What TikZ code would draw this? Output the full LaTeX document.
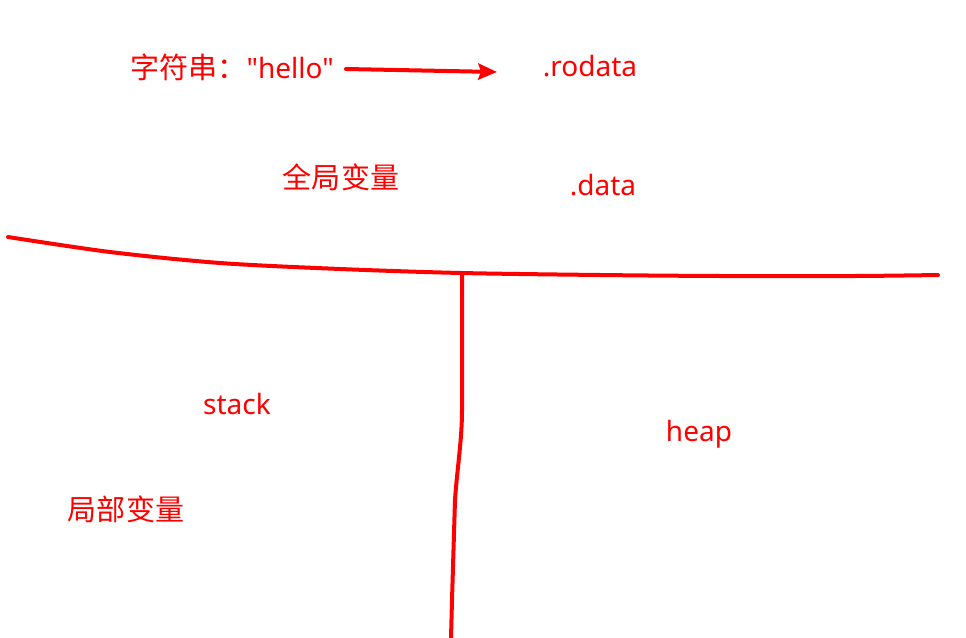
\documentclass[tikz,border=0pt]{standalone}
\usepackage{fontspec}
\setmainfont{Noto Sans}[Ligatures=TeXOff]
\newfontfamily\cjkfont{Noto Sans CJK SC}[Ligatures=TeXOff]
\usetikzlibrary{arrows.meta}
\definecolor{pen}{RGB}{255,0,0}
\begin{document}
\begin{tikzpicture}[x=0.75pt,y=-0.75pt,
  lbl/.style={text=pen,inner sep=0pt,anchor=center,font=\fontsize{21pt}{24pt}\selectfont},
  cjk/.style={lbl,font=\cjkfont\fontsize{21.8pt}{24pt}\selectfont},
  stroke/.style={draw=pen,line width=3pt,line cap=round,line join=round}]
\useasboundingbox[fill=white] (0,0) rectangle (966,638);
\node[lbl] (hello) at (232,67) {{\cjkfont\fontsize{21.8pt}{24pt}\selectfont 字符串：}"hello"};
\node[lbl] (rodata) at (590,66) {.rodata};
\node[cjk] (global) at (341,177) {全局变量};
\node[lbl] (data) at (603,185) {.data};
\node[lbl] (stack) at (237,404) {stack};
\node[lbl] (heap) at (699,434) {heap};
\node[cjk] (local) at (126,509) {局部变量};
\coordinate (a1) at (346,69);
\coordinate (a2) at (497,72);
\draw[stroke,-{Stealth[length=14pt,width=12pt,inset=2pt]}] (a1) -- (a2);
\draw[stroke] plot[smooth,tension=0.5] coordinates {(8,237) (110,252) (220,263) (340,269) (461,273) (600,275) (720,276) (855,276) (938,275)};
\coordinate (t) at (462,275);
\coordinate (b) at (451,638);
\draw[stroke,line cap=butt] (t) -- (462,410) .. controls (462,440) and (457,470) .. (455,500) -- (452,600) -- (b);
\end{tikzpicture}
\end{document}
